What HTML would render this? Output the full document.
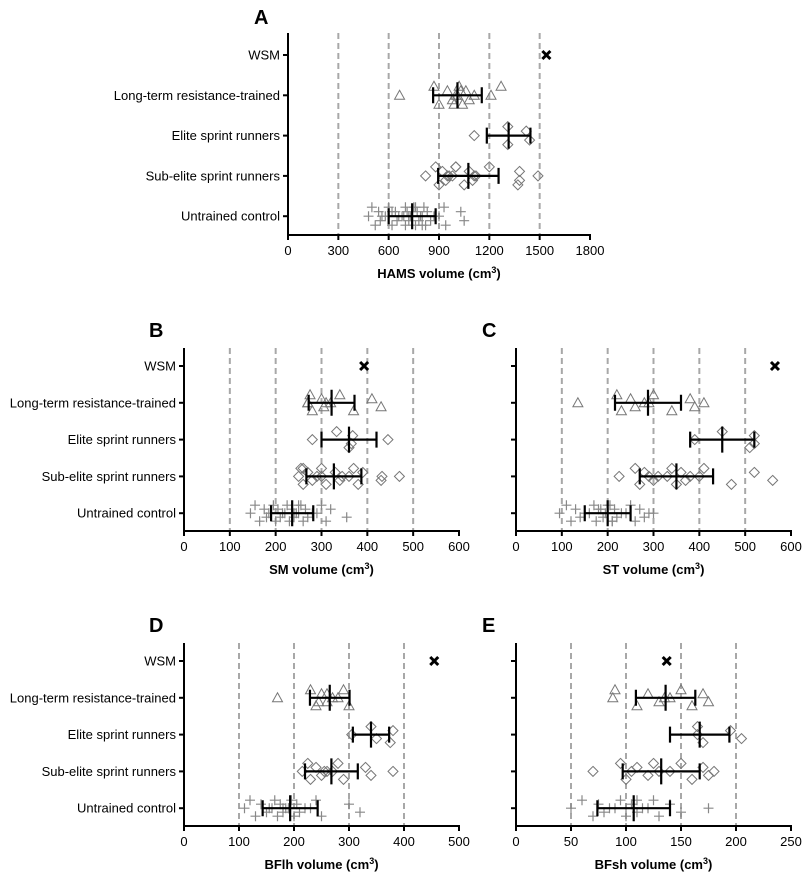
<!DOCTYPE html>
<html><head><meta charset="utf-8"><style>
body{margin:0;background:#fff;}
svg text{font-family:"Liberation Sans",Arial,sans-serif;}
</style></head><body>
<svg id="c" width="810" height="880" viewBox="0 0 810 880" xmlns="http://www.w3.org/2000/svg"></svg>
<script>
const groups = ["WSM","Long-term resistance-trained","Elite sprint runners","Sub-elite sprint runners","Untrained control"];
const hamsWSM=[1540];
const hamsLT=[665,870,900,950,980,1000,1010,1020,1040,1060,1080,1110,1210,1270,990,1030];
const hamsElite=[1110,1310,1310,1420,1440];
const hamsSub=[820,880,900,920,940,960,980,1000,1050,1080,1100,1110,1120,1200,1370,1380,1380,1490,950,1000];
const hamsUnt=[480,500,520,540,550,560,580,600,620,640,650,660,680,700,700,710,720,730,740,750,760,770,780,790,800,810,820,830,850,870,900,930,940,1030,1050,690,720,760,800,620];
const hamsMean=[1540,1010,1315,1075,740];
const hamsSD=[0,145,130,180,140];
const smWSM=[393];
const smLT=[270,275,280,300,305,310,320,340,370,410,430,270];
const smElite=[280,333,360,368,365,445];
const smSub=[250,255,260,270,280,290,300,300,310,330,340,345,360,370,380,390,430,432,470,260];
const smUnt=[145,155,165,175,180,185,190,195,200,205,210,215,220,225,230,235,240,245,250,255,260,265,270,280,290,300,310,320,355,235,240,250];
const smMean=[393,322,360,327,236];
const smSD=[0,50,60,60,46];
const stWSM=[565];
const stLT=[135,220,230,250,260,280,290,300,340,380,390,410];
const stElite=[390,450,510,520,520];
const stSub=[225,260,270,280,300,310,330,340,350,360,370,380,400,410,470,520,560,290];
const stUnt=[95,110,120,130,140,150,160,170,175,180,190,195,200,205,210,215,220,230,240,250,260,270,280,290,300,200,210,185];
const stMean=[565,288,450,350,200];
const stSD=[0,72,70,80,50];
const blWSM=[455];
const blLT=[170,230,240,250,260,270,280,290,300,260,245];
const blElite=[305,340,375,380,350];
const blSub=[215,225,230,240,250,260,270,280,290,330,340,380,255];
const blUnt=[110,120,130,140,150,155,160,165,170,175,180,185,190,195,200,205,210,220,230,240,250,300,320,190,180];
const blMean=[455,265,340,268,193];
const blSD=[0,36,33,48,50];
const bsWSM=[137];
const bsLT=[88,90,110,120,130,135,140,150,160,170,175];
const bsElite=[165,165,170,195,205];
const bsSub=[70,95,100,110,120,130,140,150,160,170,175,180,105,125];
const bsUnt=[50,60,70,75,80,85,90,95,100,105,110,115,120,125,130,140,150,175,100,110];
const bsMean=[137,136,167,132,107];
const bsSD=[0,27,27,35,33];

const NS="http://www.w3.org/2000/svg";
const svg=document.getElementById('c');
function mk(t,a,p){const e=document.createElementNS(NS,t);for(const k in a)e.setAttribute(k,a[k]);(p||svg).appendChild(e);return e;}

function panel(o){
  const g=mk('g',{});
  
  
  const sx=v=>o.x0+(v/o.max)*(o.x1-o.x0);
  const rows=[0,1,2,3,4].map(i=>o.top+o.r0+i*o.step);
  // gridlines
  o.ticks.forEach(t=>{ if(t>0&&t<o.max&&t<=o.gridMax){const l=mk('line',{x1:sx(t),x2:sx(t),y1:o.top,y2:o.axis,stroke:'#a8a8a8','stroke-width':2,'stroke-dasharray':'6,4'},g);
    }});
  // axes
  const ya=mk('line',{x1:o.x0,x2:o.x0,y1:o.top,y2:o.axis+1,stroke:'#000','stroke-width':2},g);
  
  const xa=mk('line',{x1:o.x0-1,x2:o.x1+1,y1:o.axis,y2:o.axis,stroke:'#000','stroke-width':2},g);
  
  o.ticks.forEach(t=>{mk('line',{x1:sx(t),x2:sx(t),y1:o.axis,y2:o.axis+5,stroke:'#000','stroke-width':2},g);
    const tx=mk('text',{x:sx(t),y:o.axis+20,'font-size':13,'text-anchor':'middle'},g);tx.textContent=t;
    });
  rows.forEach((y,i)=>{mk('line',{x1:o.x0-5,x2:o.x0,y1:y,y2:y,stroke:'#000','stroke-width':2},g);
    if(o.labels){const tx=mk('text',{x:o.x0-8,y:y+4.5,'font-size':13,'text-anchor':'end'},g);tx.textContent=groups[i];
    }});
  const tl=mk('text',{x:o.lx,y:o.ly,'font-size':20,'font-weight':'bold'},g);tl.textContent=o.letter;
  
  const xt=mk('text',{x:(o.x0+o.x1)/2,y:o.axis+43,'font-size':13,'font-weight':'bold','text-anchor':'middle'},g);
  xt.innerHTML=o.title+' (cm<tspan dy="-5" font-size="9">3</tspan><tspan dy="5">)</tspan>';
  
  const J=o.jit;
  const offs=[0,-J,J,-J/2,J/2,0];
  // points
  o.data.forEach((arr,gi)=>{
    const y0=rows[gi];
    arr.forEach((v,i)=>{
      const x=sx(v), y=gi===0?y0:y0+offs[i%offs.length];
      let e;
      if(gi===0){e=mk('path',{d:`M${x-4},${y-4}L${x+4},${y+4}M${x+4},${y-4}L${x-4},${y+4}`,stroke:'#000','stroke-width':3},g);}
      else if(gi===1){e=mk('path',{d:`M${x},${y-5}L${x+5},${y+4}L${x-5},${y+4}Z`,fill:'none',stroke:'#777','stroke-width':1},g);}
      else if(gi===2||gi===3){e=mk('path',{d:`M${x},${y-5}L${x+5},${y}L${x},${y+5}L${x-5},${y}Z`,fill:'none',stroke:'#777','stroke-width':1},g);}
      else {e=mk('path',{d:`M${x-5},${y}L${x+5},${y}M${x},${y-5}L${x},${y+5}`,stroke:'#888','stroke-width':1.2},g);}
      
    });
    if(gi>0){
      const m=o.mean[gi],s=o.sd[gi];
      const eb=mk('path',{d:`M${sx(m-s)},${y0}L${sx(m+s)},${y0}M${sx(m-s)},${y0-8}L${sx(m-s)},${y0+8}M${sx(m+s)},${y0-8}L${sx(m+s)},${y0+8}M${sx(m)},${y0-13}L${sx(m)},${y0+13}`,stroke:'#000','stroke-width':2.2,fill:'none'},g);
      
    }
  });
}
panel({name:'panel-a-hams',letter:'A',lx:254,ly:24,x0:288,x1:590,max:1800,ticks:[0,300,600,900,1200,1500,1800],gridMax:1500,top:33,axis:235,r0:22,step:40.3,labels:true,title:'HAMS volume',jit:9,
  data:[hamsWSM,hamsLT,hamsElite,hamsSub,hamsUnt],mean:hamsMean,sd:hamsSD});
panel({name:'panel-b-sm',letter:'B',lx:149,ly:337,x0:184,x1:459,max:600,ticks:[0,100,200,300,400,500,600],gridMax:500,top:348,axis:531,r0:18,step:36.8,labels:true,title:'SM volume',jit:8,
  data:[smWSM,smLT,smElite,smSub,smUnt],mean:smMean,sd:smSD});
panel({name:'panel-c-st',letter:'C',lx:482,ly:337,x0:516,x1:791,max:600,ticks:[0,100,200,300,400,500,600],gridMax:500,top:348,axis:531,r0:18,step:36.8,labels:false,title:'ST volume',jit:8,
  data:[stWSM,stLT,stElite,stSub,stUnt],mean:stMean,sd:stSD});
panel({name:'panel-d-bflh',letter:'D',lx:149,ly:632,x0:184,x1:459,max:500,ticks:[0,100,200,300,400,500],gridMax:400,top:643,axis:826,r0:18,step:36.8,labels:true,title:'BFlh volume',jit:8,
  data:[blWSM,blLT,blElite,blSub,blUnt],mean:blMean,sd:blSD});
panel({name:'panel-e-bfsh',letter:'E',lx:482,ly:632,x0:516,x1:791,max:250,ticks:[0,50,100,150,200,250],gridMax:200,top:643,axis:826,r0:18,step:36.8,labels:false,title:'BFsh volume',jit:8,
  data:[bsWSM,bsLT,bsElite,bsSub,bsUnt],mean:bsMean,sd:bsSD});
</script>
</body></html>
